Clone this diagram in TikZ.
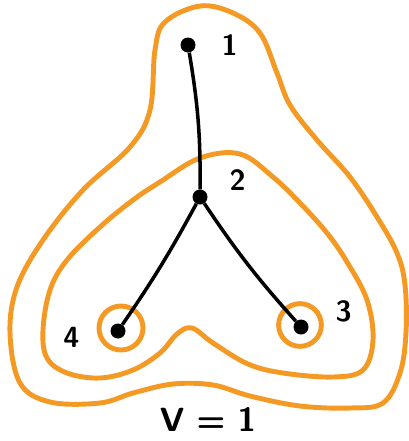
\documentclass[tikz,border=0pt]{standalone}
\usepackage{tikz}
\usetikzlibrary{positioning}
\definecolor{contourorange}{RGB}{244,154,36}
\tikzset{
    vertex/.style={circle, fill=black, inner sep=0pt, minimum size=0.45cm},
    vlabel/.style={font=\sffamily\bfseries\Huge},
    edge/.style={line width=3pt, black},
    contour/.style={line width=4.2pt, contourorange, line join=round}
}

\begin{document}
\begin{tikzpicture}[x=0.03cm, y=-0.03cm]
    \useasboundingbox (0,0) rectangle (408,441);

    % Outer contour (all vertices)
    \draw[contour] plot[smooth cycle, tension=0.6] coordinates {
        (200,6) (233,13) (260,33) (277,73) (290,105) (317,140) (350,177)
        (377,217) (397,253) (405,285) (406,333) (400,373) (383,403)
        (350,408) (300,406) (250,396) (213,385) (173,384) (133,393)
        (100,403) (50,402) (20,383) (10,333) (17,287) (43,240) (83,190)
        (130,147) (150,110) (155,50) (165,22)};

    % Middle contour (vertices 2, 3, 4)
    \draw[contour] plot[smooth cycle, tension=0.6] coordinates {
        (160,182) (200,158) (240,154) (273,177) (300,203) (327,233)
        (347,262) (367,300) (373,340) (363,370) (333,377) (283,373)
        (248,364) (213,343) (192,328) (177,334) (160,353) (133,370)
        (100,378) (67,373) (47,358) (43,330) (50,290) (67,260)
        (100,227) (133,200)};

    % Vertices
    \node[vertex] (v1) at (188,45) {};
    \node[vertex] (v2) at (200,197) {};
    \node[vertex] (v3) at (301,327) {};
    \node[vertex] (v4) at (118,331) {};

    % Inner contours (single leaves)
    \draw[contour] (121,328) circle (0.66cm);
    \draw[contour] (300,325) circle (0.64cm);

    % Edges
    \draw[edge] (v1) to[bend left=5] (v2);
    \draw[edge] (v2) to[bend left=3] (v4);
    \draw[edge] (v2) to[bend right=4] (v3);

    % Labels
    \node[vlabel, right=0.65cm of v1] (l1) {1};
    \node[vlabel, above right=-0.1cm and 0.6cm of v2] (l2) {2};
    \node[vlabel, above right=-0.15cm and 0.75cm of v3] (l3) {3};
    \node[vlabel, left=0.8cm of v4, yshift=-0.2cm] (l4) {4};

    \node[font=\sffamily\bfseries\Huge, scale=1.15] (value) at (208,419) {V = 1};
\end{tikzpicture}
\end{document}
